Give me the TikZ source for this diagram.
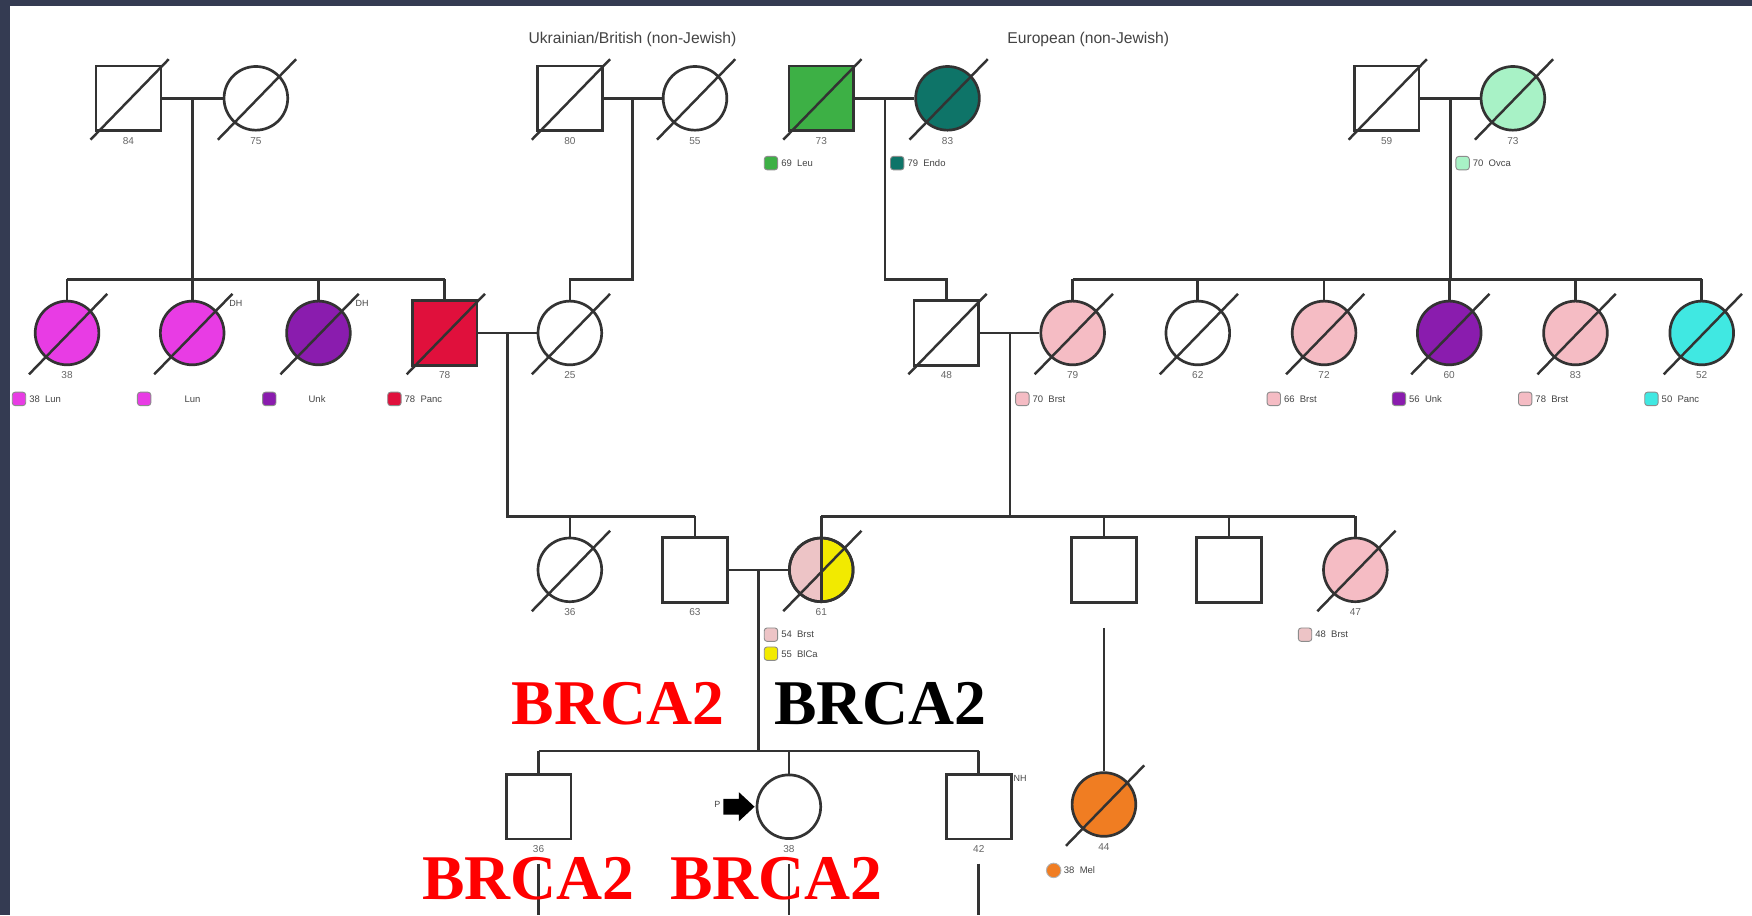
\documentclass[tikz,border=0pt]{standalone}
\usepackage{fontspec}
\setmainfont{Liberation Sans}
\newfontfamily\brcafont{Liberation Serif}
\definecolor{linec}{HTML}{333333}
\definecolor{agec}{HTML}{666666}
\definecolor{legc}{HTML}{444444}
\definecolor{ttlc}{HTML}{444444}
\definecolor{framec}{HTML}{343B52}
\definecolor{magc}{HTML}{E83CE4}
\definecolor{purc}{HTML}{8A1CAE}
\definecolor{redc}{HTML}{E0103C}
\definecolor{grnc}{HTML}{3DB045}
\definecolor{tealc}{HTML}{0E7468}
\definecolor{mintc}{HTML}{A8F2C6}
\definecolor{pinkc}{HTML}{F5BCC4}
\definecolor{pinkh}{HTML}{EDC4C6}
\definecolor{cyanc}{HTML}{40E8E2}
\definecolor{orgc}{HTML}{F07D22}
\definecolor{yelc}{HTML}{F2EA00}
\definecolor{brred}{HTML}{FF0000}
\tikzset{
  ln/.style={draw=linec, line width=2.4pt},
  male/.style={rectangle, draw=linec, line width=2.4pt, minimum size=58pt, inner sep=0pt, fill=white},
  female/.style={circle, draw=linec, line width=2.4pt, minimum size=57pt, inner sep=0pt, fill=white},
  age/.style={font=\fontsize{9}{10}\selectfont, text=agec, inner sep=0pt},
  legt/.style={font=\fontsize{8.5}{10}\selectfont, text=legc, anchor=west, inner sep=0pt},
  sw/.style={rectangle, rounded corners=2.5pt, draw=black!45, line width=0.8pt, minimum size=12pt, inner sep=0pt},
  swc/.style={circle, draw=black!30, line width=0.8pt, minimum size=13pt, inner sep=0pt},
  brca/.style={font=\brcafont\bfseries\fontsize{57}{60}\selectfont, inner sep=0pt},
  ttl/.style={font=\fontsize{14}{16}\selectfont, text=ttlc, inner sep=0pt},
  supl/.style={font=\fontsize{8}{9}\selectfont, text=legc, inner sep=0pt},
  decl/.style={draw=linec, line width=2.2pt},
}
% person: name, style, x, y, age
\newcommand\per[5]{\node[#2] (#1) at (#3,#4) {}; \node[age] (#1age) at (#3,#4+38) {#5};}
\newcommand\decd[1]{\draw[decl] ([shift={(-34,37)}]#1.center) -- ([shift={(36,-35)}]#1.center);}
% legend: name, x, y, colour, text
\newcommand\leg[5]{\node[sw, fill=#4] (#1) at (#2-45,#3) {}; \node[legt] (#1t) at (#2-36,#3) {#5};}
\begin{document}
\begin{tikzpicture}[x=1pt, y=-1pt]
\useasboundingbox (0,0) rectangle (1568,819);
\fill[white] (0,0) rectangle (1568,819);
\fill[framec] (0,0) rectangle (1568,5);
\fill[framec] (0,0) rectangle (9,819);

% titles
\node[ttl] (t1) at (566,35) {Ukrainian/British (non-Jewish)};
\node[ttl] (t2) at (974,35) {European (non-Jewish)};

\coordinate (m1) at (172,88);
\coordinate (m2) at (566,88);
\coordinate (m3) at (792,88);
\coordinate (m4) at (1298,88);
\coordinate (m5) at (454,298);
\coordinate (m6) at (904,298);
\coordinate (m7) at (679,510);

% ---------- generation 1 ----------
\per{ga}{male}{115}{88}{84}
\per{gb}{female}{229}{88}{75}
\per{gc}{male}{510}{88}{80}
\per{gd}{female}{622}{88}{55}
\per{ge}{male, fill=grnc}{735}{88}{73}
\per{gf}{female, fill=tealc}{848}{88}{83}
\per{gg}{male}{1241}{88}{59}
\per{gh}{female, fill=mintc}{1354}{88}{73}

% ---------- generation 2 ----------
\per{a1}{female, fill=magc}{60}{298}{38}
\node[female, fill=magc] (a2) at (172,298) {};
\node[female, fill=purc] (a3) at (285,298) {};
\per{a4}{male, fill=redc}{398}{298}{78}
\per{a5}{female}{510}{298}{25}
\per{b1}{male}{847}{298}{48}
\per{b2}{female, fill=pinkc}{960}{298}{79}
\per{b3}{female}{1072}{298}{62}
\per{b4}{female, fill=pinkc}{1185}{298}{72}
\per{b5}{female, fill=purc}{1297}{298}{60}
\per{b6}{female, fill=pinkc}{1410}{298}{83}
\per{b7}{female, fill=cyanc}{1523}{298}{52}

% ---------- generation 3 ----------
\per{c1}{female}{510}{510}{36}
\per{c2}{male}{622}{510}{63}
\node[female, fill=none, path picture={
  \fill[pinkh] (path picture bounding box.south west) rectangle (path picture bounding box.north);
  \fill[yelc] (path picture bounding box.north) rectangle (path picture bounding box.south east);}] (c3) at (735,510) {};
\node[age] (c3age) at (735,548) {61};
\node[male] (c4) at (988,510) {};
\node[male] (c5) at (1100,510) {};
\per{c6}{female, fill=pinkc}{1213}{510}{47}

% ---------- generation 4 ----------
\per{d1}{male}{482}{722}{36}
\per{d2}{female}{706}{722}{38}
\per{d3}{male}{876}{722}{42}
\per{e1}{female, fill=orgc}{988}{720}{44}

% ---------- lines ----------
\draw[ln] (ga.east) -- (gb.west);
\draw[ln] (m1) -- (172,250);
\draw[ln] (60,250) -- (398,250);
\draw[ln] (60,250) -- (a1.north);
\draw[ln] (172,250) -- (a2.north);
\draw[ln] (285,250) -- (a3.north);
\draw[ln] (398,250) -- (a4.north);

\draw[ln] (gc.east) -- (gd.west);
\draw[ln] (m2) -- (566,250) -- (510,250) -- (a5.north);

\draw[ln] (ge.east) -- (gf.west);
\draw[ln] (m3) -- (792,250) -- (847,250) -- (b1.north);

\draw[ln] (gg.east) -- (gh.west);
\draw[ln] (m4) -- (1298,250);
\draw[ln] (960,250) -- (1523,250);
\foreach \n/\x in {b2/960, b3/1072, b4/1185, b5/1297, b6/1410, b7/1523}
  {\draw[ln] (\x,250) -- (\n.north);}

\draw[ln] (a4.east) -- (a5.west);
\draw[ln] (m5) -- (454,462) -- (622,462);
\draw[ln] (510,462) -- (c1.north);
\draw[ln] (622,462) -- (c2.north);

\draw[ln] (b1.east) -- (b2.west);
\draw[ln] (m6) -- (904,462);
\draw[ln] (735,462) -- (1213,462);
\foreach \n/\x in {c3/735, c4/988, c5/1100, c6/1213}
  {\draw[ln] (\x,462) -- (\n.north);}

\draw[ln] (c2.east) -- (c3.west);
\draw[ln] (m7) -- (679,672);
\draw[ln] (482,672) -- (876,672);
\foreach \n/\x in {d1/482, d2/706, d3/876}
  {\draw[ln] (\x,672) -- (\n.north);}

\coordinate (c4low) at (988,562);
\draw[ln] (c4low) -- (e1.north);
\coordinate (d1low) at (482,773);
\coordinate (d2low) at (706,773);
\coordinate (d3low) at (876,773);
\draw[ln] (d1low) -- (482,819);
\draw[ln] (d2low) -- (706,819);
\draw[ln] (d3low) -- (876,819);

% half-shaded divider and outline on c3
\draw[ln] (c3.north) -- (c3.south);
\draw[ln] (c3.center) circle[radius=28.5];

% ---------- deceased marks ----------
\foreach \n in {ga,gb,gc,gd,ge,gf,gg,gh,a1,a2,a3,a4,a5,b1,b2,b3,b4,b5,b6,b7,c1,c3,c6,e1}
  {\decd{\n}}

% ---------- superscripts ----------
\node[supl] (a2s) at (211,272) {DH};
\node[supl] (a3s) at (324,272) {DH};
\node[supl] (d3s) at (913,697) {NH};

% ---------- legends ----------
\leg{lge}{735}{146}{grnc}{69\ \ Leu}
\leg{lgf}{848}{146}{tealc}{79\ \ Endo}
\leg{lgh}{1354}{146}{mintc}{70\ \ Ovca}
\leg{la1}{62}{357}{magc}{38\ \ Lun}
\node[sw, fill=magc] (la2) at (129,357) {};
\node[legt] (la2t) at (165,357) {Lun};
\node[sw, fill=purc] (la3) at (241,357) {};
\node[legt] (la3t) at (276,357) {Unk};
\leg{la4}{398}{357}{redc}{78\ \ Panc}
\leg{lb2}{960}{357}{pinkc}{70\ \ Brst}
\leg{lb4}{1185}{357}{pinkc}{66\ \ Brst}
\leg{lb5}{1297}{357}{purc}{56\ \ Unk}
\leg{lb6}{1410}{357}{pinkc}{78\ \ Brst}
\leg{lb7}{1523}{357}{cyanc}{50\ \ Panc}
\leg{lc3a}{735}{568}{pinkh}{54\ \ Brst}
\leg{lc3b}{735}{585}{yelc}{55\ \ BlCa}
\leg{lc6}{1213}{568}{pinkh}{48\ \ Brst}
\node[swc, fill=orgc] (le1) at (943,779) {};
\node[legt] (le1t) at (952,779) {38\ \ Mel};

% ---------- proband arrow ----------
\coordinate (parrtip) at ([xshift=-1pt]d2.west);
\fill[black] (parrtip) -- ++(-14,-13) -- ++(0,6) -- ++(-14,0) -- ++(0,14) -- ++(14,0) -- ++(0,6) -- cycle;
\node[supl] (pl) at (642,720) {P};

% ---------- BRCA2 labels ----------
\node[brca, text=brred] (br1) at (553,630) {BRCA2};
\node[brca, text=black] (br2) at (788,630) {BRCA2};
\node[brca, text=brred] (br3) at (473,786) {BRCA2};
\node[brca, text=brred] (br4) at (695,786) {BRCA2};
\end{tikzpicture}
\end{document}
